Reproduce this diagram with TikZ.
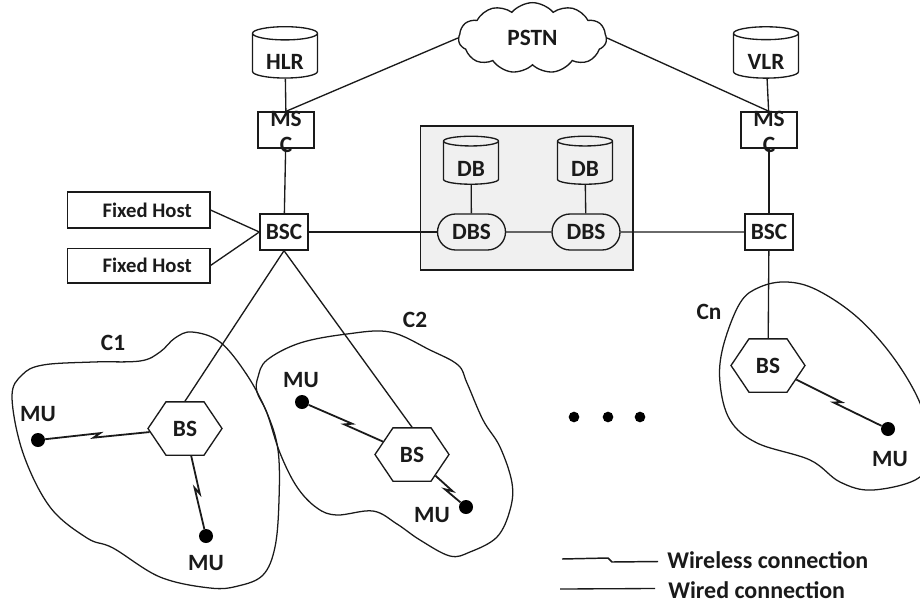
\documentclass[tikz,border=0pt]{standalone}
\usepackage{fontspec}
\setmainfont{Carlito}
\usetikzlibrary{shapes.geometric,shapes.symbols,shapes.misc,calc}
\definecolor{ink}{HTML}{1A1A1A}
\tikzset{
  px/.style={x=0.75pt,y=-0.75pt},
  lab/.style={font=\fontsize{17.5pt}{19pt}\selectfont\bfseries,text=ink,inner sep=0pt},
  boxn/.style={lab,draw=ink,line width=1pt,rectangle,inner sep=0pt},
  dbcyl/.style={lab,draw=ink,line width=1pt,cylinder,shape border rotate=90,aspect=0.35,inner sep=0pt,minimum width=#1*0.75pt,text height=20pt},
  hexn/.style={lab,draw=ink,line width=1pt,signal,signal to=east and west,signal pointer angle=112,minimum width=55.5pt,minimum height=40pt,inner sep=0pt},
  dbsn/.style={lab,draw=ink,line width=1pt,rounded rectangle,minimum width=51pt,minimum height=27pt,inner sep=0pt},
  dotn/.style={circle,fill=black,draw=none,minimum size=10.5pt,inner sep=0pt},
  smalld/.style={circle,fill=black,draw=none,minimum size=8pt,inner sep=0pt},
  wire/.style={draw=ink,line width=1pt},
  wless/.style={draw=ink,line width=1.35pt,line join=miter},
  blob/.style={draw=ink,line width=0.95pt}
}
\newcommand{\wlink}[3]{%
  \coordinate (m) at ($(#1)!#3!(#2)$);
  \coordinate (mf) at ($(m)!2.6pt!(#2)$);
  \coordinate (mb) at ($(m)!-2.6pt!(#2)$);
  \draw[wless] (#1) -- ($(mf)!1.5pt!90:(#2)$) -- ($(mb)!1.5pt!-90:(#2)$) -- (#2);}
\begin{document}
\begin{tikzpicture}[px]
\useasboundingbox (0,0) rectangle (920,603);
% cells
\draw[blob] plot[smooth cycle,tension=0.6] coordinates {(160,352)(175,338)(192,332)(220,342)(247,375)(267,413)(278,450)(279,500)(275,547)(263,575)(238,586)(210,588)(160,577)(113,548)(87,538)(50,507)(23,453)(12,397)(22,375)(43,365)(93,362)(140,361)};
\draw[blob] plot[smooth cycle,tension=0.6] coordinates {(258,377)(267,360)(300,343)(347,334)(390,332)(430,350)(458,365)(467,383)(483,420)(500,447)(512,483)(510,510)(497,537)(470,552)(450,556)(420,540)(397,524)(373,511)(337,515)(317,508)(297,487)(280,453)(267,413)(257,392)};
\draw[blob] plot[smooth cycle,tension=0.6] coordinates {(787,282)(817,290)(857,317)(893,357)(920,403)(930,445)(920,477)(873,490)(840,482)(810,460)(757,443)(730,420)(720,383)(723,347)(740,303)(760,287)};
% gray box
\node[draw=ink,line width=1pt,fill=black!6,minimum width=159.5pt,minimum height=108pt,inner sep=0pt] (dbbox) at (526.5,198) {};
% top row
\node[dbcyl=65,minimum height=38.5pt] (hlr) at (285,56) {HLR};
\node[dbcyl=65,minimum height=38.5pt] (vlr) at (766,56) {VLR};
\node[dbcyl=55,minimum height=36pt] (db1) at (471,163) {DB};
\node[dbcyl=55,minimum height=36pt] (db2) at (585,163) {DB};
\node[cloud,cloud puffs=11,cloud puff arc=100,aspect=2.7,draw=ink,line width=1pt,lab,minimum width=111pt,minimum height=53pt] (pstn) at (532.5,38) {PSTN};
\node[boxn,minimum width=42pt,minimum height=27pt] (msc1) at (286,130) {};
\node[boxn,minimum width=42pt,minimum height=27pt] (msc2) at (769,130) {};
\node[lab] (msc1a) at (286,119) {MS};
\node[lab] (msc1b) at (286,145) {C};
\node[lab] (msc2a) at (769,119) {MS};
\node[lab] (msc2b) at (769,145) {C};
\node[boxn,minimum width=36pt,minimum height=27pt] (bsc1) at (284,232) {BSC};
\node[boxn,minimum width=36pt,minimum height=27pt] (bsc2) at (769,232) {BSC};
\node[boxn,minimum width=107pt,minimum height=27pt,font=\fontsize{15.5pt}{17pt}\selectfont\bfseries] (fh1) at (138.5,210) {\hspace*{13pt}Fixed Host};
\node[boxn,minimum width=107pt,minimum height=26pt,font=\fontsize{15.5pt}{17pt}\selectfont\bfseries] (fh2) at (138.5,265.5) {\hspace*{13pt}Fixed Host};
\node[dbsn] (dbs1) at (471.5,232) {DBS};
\node[dbsn] (dbs2) at (586,232) {DBS};
% base stations
\node[hexn] (bs1) at (185,428.5) {BS};
\node[hexn] (bs2) at (412,454.5) {BS};
\node[hexn] (bs3) at (768,365.5) {BS};
% mobile units
\node[dotn] (mu1) at (38,440) {};
\node[dotn] (mu2) at (206,536) {};
\node[dotn] (mu3) at (302,402) {};
\node[dotn] (mu4) at (466,507) {};
\node[dotn] (mu5) at (888,429) {};
\node[lab] (mu1t) at (38,414) {MU};
\node[lab] (mu2t) at (206,563) {MU};
\node[lab] (mu3t) at (301,380) {MU};
\node[lab] (mu4t) at (432,515) {MU};
\node[lab] (mu5t) at (890,459) {MU};
\node[lab] (c1) at (113,343) {C1};
\node[lab] (c2) at (415,320) {C2};
\node[lab] (cn) at (709,312) {Cn};
% dots
\node[smalld] (e1) at (574,417) {};
\node[smalld] (e2) at (608,417) {};
\node[smalld] (e3) at (640,417) {};
% wired
\draw[wire] (hlr) -- (msc1a);
\draw[wire] (vlr) -- (msc2a);
\draw[wire] (msc1) -- (bsc1);
\draw[wire] (msc2) -- (bsc2);
\draw[wire] (pstn.west) -- (msc1.north);
\draw[wire] (pstn.east) -- (msc2.north);
\draw[wire] (fh1.east) -- (bsc1.west);
\draw[wire] (fh2.east) -- (bsc1.west);
\draw[wire] (bsc1) -- (dbs1);
\draw[wire] (dbs1) -- (dbs2);
\draw[wire] (dbs2) -- (bsc2);
\draw[wire] (db1) -- (dbs1);
\draw[wire] (db2) -- (dbs2);
\draw[wire] (bsc1.south) -- (bs1.north);
\draw[wire] (bsc1.south) -- (bs2.north);
\draw[wire] (bsc2) -- (bs3);
% wireless
\wlink{mu1}{bs1}{0.4}
\wlink{bs1}{mu2}{0.58}
\wlink{mu3}{bs2}{0.42}
\wlink{bs2}{mu4}{0.68}
\wlink{bs3}{mu5}{0.58}
% legend
\coordinate (la) at (562,559);
\coordinate (lb) at (658,561.5);
\coordinate (lc) at (560,589);
\coordinate (ld) at (655,588.5);
\draw[wless,line width=1.1pt] (la) -- (608,558) -- (612,562) -- (lb);
\draw[wire] (lc) -- (ld);
\node[lab,anchor=west,font=\fontsize{18pt}{20pt}\selectfont\bfseries] (lw) at (667,560) {Wireless connection};
\node[lab,anchor=west,font=\fontsize{18pt}{20pt}\selectfont\bfseries] (lr) at (668,590) {Wired connection};
\end{tikzpicture}
\end{document}
